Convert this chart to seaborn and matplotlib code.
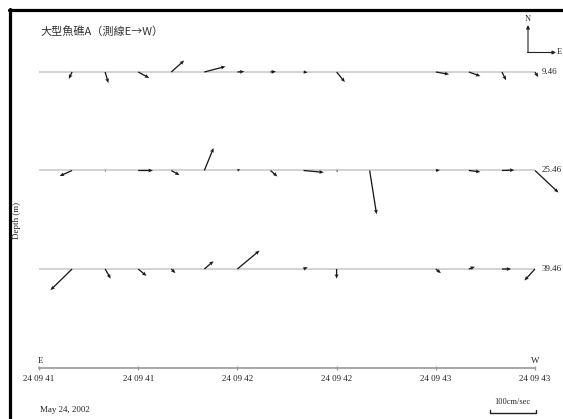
import numpy as np
import pandas as pd
import seaborn as sns
import matplotlib.pyplot as plt
from matplotlib.lines import Line2D

# tick labels of the time axis (6 ticks) and the depth of each row
tick_labels = ["24 09 41", "24 09 41", "24 09 42", "24 09 42", "24 09 43", "24 09 43"]
depths = ["9.46", "25.46", "39.46"]

# 15 stations, one every third of a tick interval
stations = np.arange(1, 16) / 3

# current vectors, east (u) and north (v) components in cm/sec, nan = no data
u_946 = [-7, 7, 24, 28, 46, 15, 12, 9, 18, np.nan, np.nan, 29, 25, 9, 7]
v_946 = [-15, -24, -13, 25, 12, 1, 1, -1, -22, np.nan, np.nan, -5, -9, -18, -11]

u_2546 = [-27, 1, 32, 18, 20, 6, 15, 44, 3, 15, np.nan, 9, 25, 27, 51]
v_2546 = [-12, -3, 0, -10, 49, 3, -13, -4, -3, -95, np.nan, 1, -3, 1, -48]

u_3946 = [-47, 12, 18, 9, 20, 48, np.nan, 9, 0, np.nan, np.nan, 11, 13, 20, -23]
v_3946 = [-46, -21, -15, -9, 17, 40, np.nan, 4, -21, np.nan, np.nan, -9, 5, 0, -25]

rows = []
for r, (u, v) in enumerate([(u_946, v_946), (u_2546, v_2546), (u_3946, v_3946)]):
    rows.append(pd.DataFrame({"x": stations, "row": r, "u": u, "v": v}))
df = pd.concat(rows).dropna()

sns.set_theme(style="white")
plt.rcParams["font.family"] = ["Liberation Serif", "Noto Sans CJK TC", "DejaVu Sans"]

W, H = 563, 419
fig = plt.figure(figsize=(W / 100, H / 100), dpi=100)
ax = fig.add_axes([0, 0, 1, 1])

# pixel helpers for figure-fraction placement
def fx(px):
    return px / W

def fy(py):
    return 1 - py / H

# x: 0..5 ticks span px 39..535 ; y: rows 0..2 at px 72, 171, 269 ; time axis at row 3
ax.set_xlim(-39 / 99.2, (W - 39) / 99.2)
ax.set_ylim((H - 72) / 98.5, -72 / 98.5)
for s in ["top", "left", "right"]:
    ax.spines[s].set_visible(False)
ax.spines["bottom"].set_position(("data", 3))
ax.spines["bottom"].set_bounds(0, 5)
ax.spines["bottom"].set_color("#9a9a9a")
ax.spines["bottom"].set_linewidth(1.2)
ax.set_xticks(range(6))
ax.set_xticklabels(tick_labels, fontsize=6.5)
ax.tick_params(axis="x", direction="inout", length=3, width=1, color="#9a9a9a", pad=4, bottom=True)
ax.set_yticks([])
ax.set_facecolor("white")
fig.patch.set_facecolor("white")

# depth base lines
ax.hlines([0, 1, 2], 0, 5, color="#cccccc", lw=1.2, zorder=1)

# stick vectors, 100 cm/sec = 46 px
ax.quiver(df["x"], df["row"], df["u"], df["v"], angles="uv", scale_units="dots",
          scale=100 / 46, units="dots", width=1.3, headwidth=3, headlength=3.5,
          headaxislength=3, color="#1a1a1a", zorder=3)

for r, d in enumerate(depths):
    ax.text(5.07, r, d, fontsize=6.5, va="center", ha="left")

fig.text(fx(40), fy(32), "大型魚礁A（測線E→W）", fontsize=8, va="center", ha="left", color="#333333",
         family=["Noto Sans CJK TC", "DejaVu Sans"])
fig.text(fx(17), fy(220), "Depth (m)", fontsize=6.5, rotation=90, va="center", ha="center")
fig.text(fx(40), fy(361), "E", fontsize=6.5, va="center", ha="center")
fig.text(fx(535), fy(361), "W", fontsize=6.5, va="center", ha="center")
fig.text(fx(40), fy(410), "May 24, 2002", fontsize=6.5, va="center", ha="left")

# scale bar
fig.add_artist(Line2D([fx(490), fx(490), fx(536), fx(536)], [fy(410), fy(413), fy(413), fy(410)],
                      transform=fig.transFigure, color="#222222", lw=1))
fig.text(fx(512), fy(402), "100cm/sec", fontsize=6, va="center", ha="center")

# north / east compass
ax.annotate("", xy=(fx(528), fy(25)), xytext=(fx(528), fy(52.5)), xycoords="figure fraction",
            arrowprops=dict(arrowstyle="-|>", lw=0.8, color="#222222", mutation_scale=5,
                            shrinkA=0, shrinkB=0))
ax.annotate("", xy=(fx(556), fy(52.5)), xytext=(fx(527.6), fy(52.5)), xycoords="figure fraction",
            arrowprops=dict(arrowstyle="-|>", lw=0.8, color="#222222", mutation_scale=5,
                            shrinkA=0, shrinkB=0))
fig.text(fx(528), fy(19), "N", fontsize=6, va="center", ha="center")
fig.text(fx(559), fy(52), "E", fontsize=6, va="center", ha="center")

# border (only top and left edges are visible)
fig.add_artist(Line2D([fx(8.5), 1], [fy(10.5), fy(10.5)], transform=fig.transFigure, color="black", lw=2.3))
fig.add_artist(Line2D([fx(10), fx(10)], [fy(9.5), 0], transform=fig.transFigure, color="black", lw=2.3))

fig.savefig("out.png", dpi=100)
